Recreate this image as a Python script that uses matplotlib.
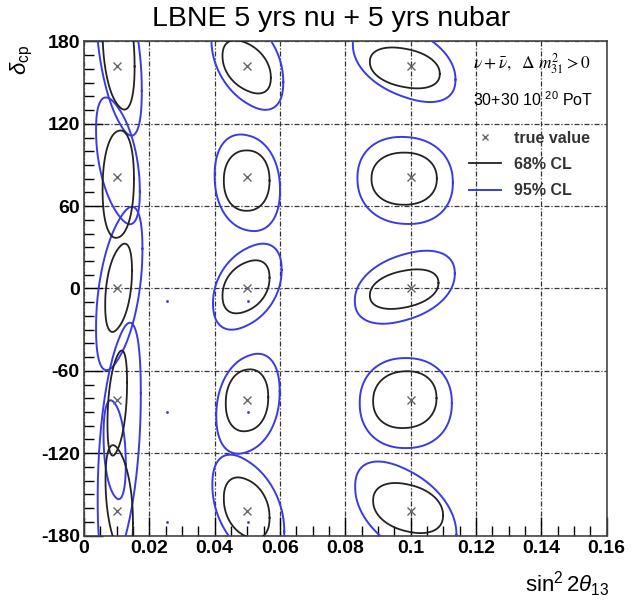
import numpy as np
import matplotlib
matplotlib.use("Agg")
import matplotlib.pyplot as plt
from matplotlib.lines import Line2D

plt.rcParams['font.family'] = ['Liberation Sans', 'DejaVu Sans']
plt.rcParams['mathtext.fontset'] = 'custom'
plt.rcParams['mathtext.rm'] = 'Liberation Sans'
plt.rcParams['mathtext.it'] = 'Liberation Sans:italic'
plt.rcParams['axes.unicode_minus'] = False

# ---- data ----
true_s = [0.01, 0.01, 0.01, 0.01, 0.01,
          0.05, 0.05, 0.05, 0.05, 0.05,
          0.10, 0.10, 0.10, 0.10, 0.10]
true_d = [162, 81, 0, -81, -162,
          162, 81, 0, -81, -162,
          162, 81, 0, -81, -162]

# 68% CL contours: centre (s, delta), half-width in s, half-height in delta, tilt
c68_s   = [0.0106, 0.0105, 0.0106, 0.0102, 0.0108,
           0.0498, 0.0498, 0.0496, 0.0499, 0.0498,
           0.0982, 0.0980, 0.0980, 0.0982, 0.0992]
c68_d   = [175, 76, 0.5, -83.5, -155,
           161.5, 78.6, 1.2, -81.5, -160,
           160.7, 80, -0.5, -81, -160]
c68_ws  = [0.0049, 0.0048, 0.0041, 0.0030, 0.0042,
           0.0074, 0.0070, 0.0072, 0.0065, 0.0070,
           0.0107, 0.0100, 0.0105, 0.0097, 0.0107]
c68_hd  = [44, 39, 31.5, 37.5, 40,
           19, 22, 19, 22.5, 22,
           14.7, 19, 14.2, 20.7, 18]
c68_rho = [-0.3, 0.1, 0.4, 0.4, -0.4,
           -0.42, 0.0, 0.35, 0.1, -0.32,
           -0.3, 0.0, 0.32, 0.05, -0.3]

# 95% CL contours
c95_s   = [0.0107, 0.0104, 0.0108, 0.0094, 0.0108,
           0.0500, 0.0500, 0.0500, 0.0502, 0.0503,
           0.0980, 0.0983, 0.0982, 0.0985, 0.0985]
c95_d   = [175, 93, 0, -117.5, -115,
           166, 77, 1.3, -84, -160,
           165, 78.7, 0.9, -83.5, -162]
c95_ws  = [0.0070, 0.0067, 0.0071, 0.0034, 0.0066,
           0.0110, 0.0100, 0.0105, 0.0097, 0.0110,
           0.0157, 0.0146, 0.0153, 0.0141, 0.0155]
c95_hd  = [62, 45, 58, 35.5, 88,
           35, 35, 30.7, 36, 38,
           28.5, 31.7, 26.1, 32.8, 35]
c95_rho = [-0.5, -0.5, 0.5, -0.3, 0.44,
           -0.45, -0.15, 0.4, 0.25, -0.45,
           -0.45, -0.05, 0.38, 0.0, -0.5]

# small best-fit dots
dot_s = [0.0253, 0.0253, 0.0253, 0.0503, 0.0503, 0.0503]
dot_d = [-9, -90, -170, -9, -90, -170]

xticks = [0, 0.02, 0.04, 0.06, 0.08, 0.1, 0.12, 0.14, 0.16]
xticklabels = ['0', '0.02', '0.04', '0.06', '0.08', '0.1', '0.12', '0.14', '0.16']
yticks = [-180, -120, -60, 0, 60, 120, 180]

BLUE = '#3a3ae6'
SQUARE = 2.2   # contour roundness (2 = ellipse)

fig = plt.figure(figsize=(6.36, 6.04), dpi=100)
ax = fig.add_axes([0.132, 0.1134, 0.822, 0.818])


def contour(cx, cy, a, b, rho, **kw):
    t = np.linspace(0, 2 * np.pi, 400)
    c, s = np.cos(t), np.sin(t)
    u = np.sign(c) * np.abs(c) ** (2 / SQUARE)
    v = np.sign(s) * np.abs(s) ** (2 / SQUARE)
    x = cx + a * u
    y = cy + b * (rho * u + np.sqrt(1 - rho ** 2) * v)
    ax.plot(x, y, **kw)


for i in range(len(c95_s)):
    contour(c95_s[i], c95_d[i], c95_ws[i], c95_hd[i], c95_rho[i],
            color=BLUE, lw=1.4, zorder=3)
for i in range(len(c68_s)):
    contour(c68_s[i], c68_d[i], c68_ws[i], c68_hd[i], c68_rho[i],
            color='#222222', lw=1.3, zorder=4)

ax.plot(true_s, true_d, 'x', color='#666666', ms=6, mew=1.0, zorder=5)
ax.plot(dot_s, dot_d, '.', color=BLUE, ms=2, zorder=5)

ax.set_xlim(0, 0.16)
ax.set_ylim(-180, 180)
ax.set_xticks(xticks)
ax.set_xticklabels(xticklabels)
ax.set_yticks(yticks)
ax.set_xticks(np.arange(0, 0.1601, 0.005), minor=True)
ax.set_yticks(np.arange(-180, 181, 10), minor=True)
ax.tick_params(which='both', direction='in', top=False, right=False)
ax.tick_params(which='major', length=14, width=1.0, labelsize=14, pad=3)
ax.tick_params(which='minor', length=7, width=1.0)
for lab in ax.get_xticklabels() + ax.get_yticklabels():
    lab.set_fontweight('bold')
ax.grid(True, which='major', color='#333333', lw=0.9,
        linestyle=(0, (4, 1.5, 1, 1.5)))
for sp in ax.spines.values():
    sp.set_linewidth(1.2)
    sp.set_color('#444444')

fig.text(0.52, 0.968, 'LBNE 5 yrs nu + 5 yrs nubar', ha='center', va='center',
         fontsize=20.5)
fig.text(0.035, 0.90, r'$\delta_{\rm cp}$', rotation=90, ha='center',
         va='center', fontsize=16)
fig.text(0.958, 0.032, r'$\sin^2 2\theta_{13}$', ha='right', va='center',
         fontsize=16)

ax.text(0.745, 0.955, r'$\nu+\bar{\nu},\ \ \Delta\ m^2_{31} > 0$',
        transform=ax.transAxes, fontsize=12.5, family='DejaVu Serif',
        math_fontfamily='stix', va='center')
ax.text(0.745, 0.882, r'30+30 10 $^{20}$ PoT', transform=ax.transAxes,
        fontsize=11.5, va='center')

handles = [Line2D([], [], ls='none', marker='x', color='#666666', ms=5),
           Line2D([], [], color='#222222', lw=1.3),
           Line2D([], [], color=BLUE, lw=1.4)]
leg = ax.legend(handles, ['true value', '68% CL', '95% CL'],
                loc='upper left', bbox_to_anchor=(0.725, 0.832),
                frameon=False, fontsize=11.5, handlelength=2.0,
                labelspacing=0.7, borderaxespad=0, handletextpad=0.8)
for t in leg.get_texts():
    t.set_fontweight('bold')
    t.set_color('#333333')

fig.savefig('out.png', dpi=100)
